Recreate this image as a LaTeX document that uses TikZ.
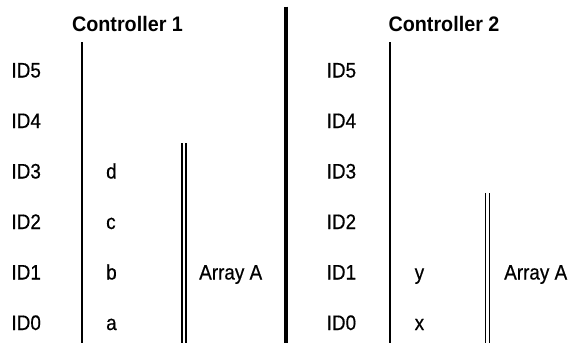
\documentclass[tikz,border=0pt]{standalone}
\usepackage{fontspec}
\setmainfont{Liberation Sans}
\newfontfamily\labfont[FakeStretch=0.9,FakeBold=0.5]{Liberation Sans}
\newfontfamily\ctrlfont[FakeStretch=0.94]{Liberation Sans Bold}
\begin{document}
\begin{tikzpicture}[x=1bp,y=-1bp,
  lab/.style={font=\labfont\fontsize{21bp}{25bp}\selectfont, inner sep=0pt, anchor=base west},
  ctrl/.style={font=\ctrlfont\fontsize{21bp}{25bp}\selectfont, inner sep=0pt, anchor=base},
  thinline/.style={line width=2bp},
  dblline/.style={line width=1.6bp},
  thickline/.style={line width=3.8bp}]
\useasboundingbox (0,0) rectangle (569,343);
% headings
\node[ctrl] (c1) at (127.5,31) {Controller 1};
\node[ctrl] (c2) at (444,31) {Controller 2};
% ID labels
\foreach \i/\yy in {5/77.5,4/128,3/178.5,2/229,1/279.5,0/330}{
  \node[lab] (l\i) at (11.3,\yy) {ID\i};
  \node[lab] (r\i) at (326.5,\yy) {ID\i};
}
% contents controller 1
\node[lab] (d) at (106,178.5) {d};
\node[lab] (c) at (106,229) {c};
\node[lab] (b) at (106,279.5) {b};
\node[lab] (a) at (106,330) {a};
\node[lab] (arr1) at (199,279.5) {Array A};
% contents controller 2
\node[lab] (y) at (414.5,279.5) {y};
\node[lab] (x) at (414.5,330) {x};
\node[lab] (arr2) at (504,279.5) {Array A};
% lines
\coordinate (t1a) at (82,42);   \coordinate (t1b) at (82,343);
\coordinate (d1a) at (182,143); \coordinate (d1b) at (182,343);
\coordinate (d1c) at (186,143); \coordinate (d1d) at (186,343);
\coordinate (ka) at (285.8,6.5); \coordinate (kb) at (285.8,343);
\coordinate (t2a) at (389.5,42); \coordinate (t2b) at (389.5,343);
\coordinate (d2a) at (485.5,193); \coordinate (d2b) at (485.5,343);
\coordinate (d2c) at (489.5,193); \coordinate (d2d) at (489.5,343);
\draw[thinline] (t1a) -- (t1b);
\draw[dblline] (d1a) -- (d1b);
\draw[dblline] (d1c) -- (d1d);
\draw[thickline] (ka) -- (kb);
\draw[thinline] (t2a) -- (t2b);
\draw[dblline] (d2a) -- (d2b);
\draw[dblline] (d2c) -- (d2d);
\end{tikzpicture}
\end{document}
